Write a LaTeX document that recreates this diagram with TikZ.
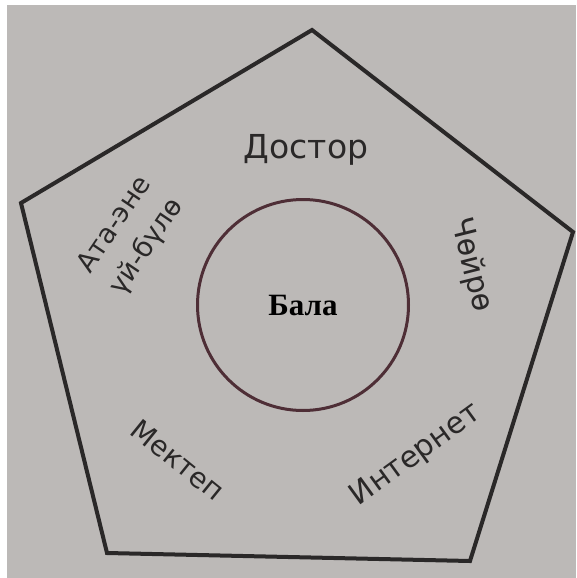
\documentclass[tikz,border=0pt]{standalone}
\usepackage{fontspec}
\setmainfont{Liberation Serif}
\newfontfamily\handfont{DejaVu Sans}
\usetikzlibrary{arrows,arrows.meta}

\definecolor{paper}{RGB}{188,185,183}
\definecolor{ink}{RGB}{42,40,40}
\definecolor{ringink}{RGB}{78,46,54}

\begin{document}
\begin{tikzpicture}[x=1pt,y=-1pt,
word/.style={font=\handfont\fontsize{#1}{#1}\selectfont, text=ink, inner sep=1pt},
word/.default=27,
ring/.style={circle, draw=ringink, line width=3pt, minimum size=211pt, inner sep=0pt},
edge/.style={draw=ink, line width=4pt, line join=miter} ]

\useasboundingbox (0,0) rectangle (576,578);
\fill[white] (0,0) rectangle (576,578);
\fill[paper] (7,5) rectangle (576,578);

\coordinate (P1) at (312,30);
\coordinate (P2) at (573,232);
\coordinate (P3) at (470,561);
\coordinate (P4) at (107,553);
\coordinate (P5) at (21,203);

\draw[edge] (P1) -- (P2) -- (P3) -- (P4) -- (P5) -- cycle;

\node[ring, font=\bfseries\fontsize{31}{31}\selectfont] (bala) at (303,305) {Бала};

\node[word=33] (dostor) at (306,150) {Достор};

\node[word=27, rotate=56, align=center] (family) at (131,236)
  {Ата-эне\\[12pt]үй-бүлө};

\node[word=30, rotate=-76] (choyro) at (471,265) {Чөйрө};

\node[word=28, rotate=-39] (mektep) at (178,460) {Мектеп};

\node[word=30, rotate=36] (internet) at (416,455) {Интернет};

\end{tikzpicture}
\end{document}
